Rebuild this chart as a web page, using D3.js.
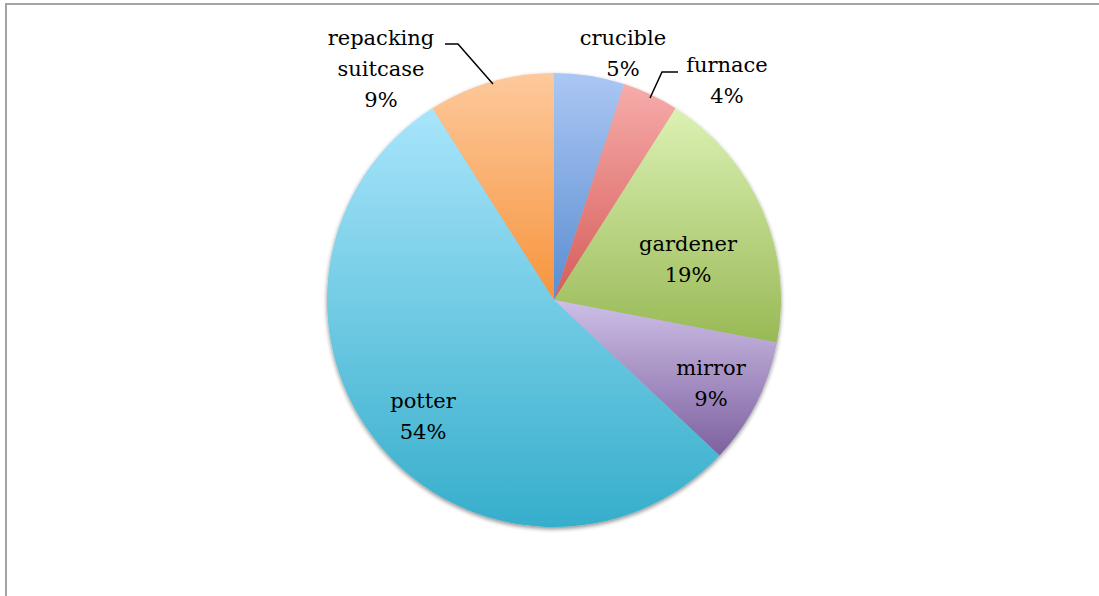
<!DOCTYPE html>
<html><head><meta charset="utf-8">
<script src="https://cdn.jsdelivr.net/npm/d3@7"></script>
<style>body{margin:0;background:#fff;overflow:hidden}</style>
</head><body>
<svg id="c" width="1099" height="596"></svg>
<script>
const categories = ["crucible", "furnace", "gardener", "mirror", "potter", "repacking suitcase"];
const values = [5, 4, 19, 9, 54, 9];
const percentLabels = ["5%", "4%", "19%", "9%", "54%", "9%"];
const colorTop = ["#abc7f4", "#f6acaa", "#dbf1b3", "#cdbfe6", "#a8e5fb", "#fdc99c"];
const colorBottom = ["#5a8dd0", "#d65c59", "#99b955", "#7e61a0", "#36aecb", "#f7943d"];
// label layout (centres of text blocks) and leader lines
const labelLines = [["crucible","5%"],["furnace","4%"],["gardener","19%"],["mirror","9%"],["potter","54%"],["repacking","suitcase","9%"]];
const labelPos = [[623,38],[727,65],[688,244],[711,368],[423,401],[381,38]];
const leaders = [null, [[678,72],[662,72],[650,98]], null, null, null, [[445,44],[458,44],[493,84]]];

const svg = d3.select("#c");
const cx = 554, cy = 300, R = 227;

// frame
svg.append("path").attr("d","M6,596 V4 H1099").attr("fill","none").attr("stroke","#a3a3a3").attr("stroke-width",2);

const defs = svg.append("defs");
const f = defs.append("filter").attr("id","sh").attr("x","-10%").attr("y","-10%").attr("width","120%").attr("height","120%");
f.append("feGaussianBlur").attr("in","SourceAlpha").attr("stdDeviation",2.2).attr("result","b");
f.append("feOffset").attr("in","b").attr("dx",0).attr("dy",1.5).attr("result","o");
f.append("feComponentTransfer").attr("in","o").attr("result","o2").append("feFuncA").attr("type","linear").attr("slope",0.45);
const m = f.append("feMerge"); m.append("feMergeNode").attr("in","o2"); m.append("feMergeNode").attr("in","SourceGraphic");

categories.forEach((c,i)=>{
  const g = defs.append("linearGradient").attr("id","g"+i).attr("x1",0).attr("y1",0).attr("x2",0).attr("y2",1);
  g.append("stop").attr("offset","0%").attr("stop-color",colorTop[i]);
  g.append("stop").attr("offset","100%").attr("stop-color",colorBottom[i]);
});

const pie = d3.pie().sort(null).value(d=>d)(values);
const arc = d3.arc().innerRadius(0).outerRadius(R);
const gp = svg.append("g").attr("transform",`translate(${cx},${cy})`).attr("filter","url(#sh)");
gp.selectAll("path").data(pie).join("path").attr("d",arc).attr("fill",(d,i)=>`url(#g${i})`);

const lh = 31;
labelLines.forEach((lines,i)=>{
  const all = lines.slice(0, lines.length-1).concat([percentLabels[i]]);
  const t = svg.append("text").attr("text-anchor","middle")
    .attr("font-family","'DejaVu Serif', 'Liberation Serif', serif").attr("font-size",21).attr("fill","#000");
  all.forEach((s,k)=>{
    t.append("tspan").attr("x",labelPos[i][0]).attr("y",labelPos[i][1]+k*lh).attr("dy","0.35em").text(s);
  });
  if (leaders[i]) {
    svg.append("path").attr("d",d3.line()(leaders[i])).attr("fill","none").attr("stroke","#000").attr("stroke-width",1.5);
  }
});
</script>
</body></html>
